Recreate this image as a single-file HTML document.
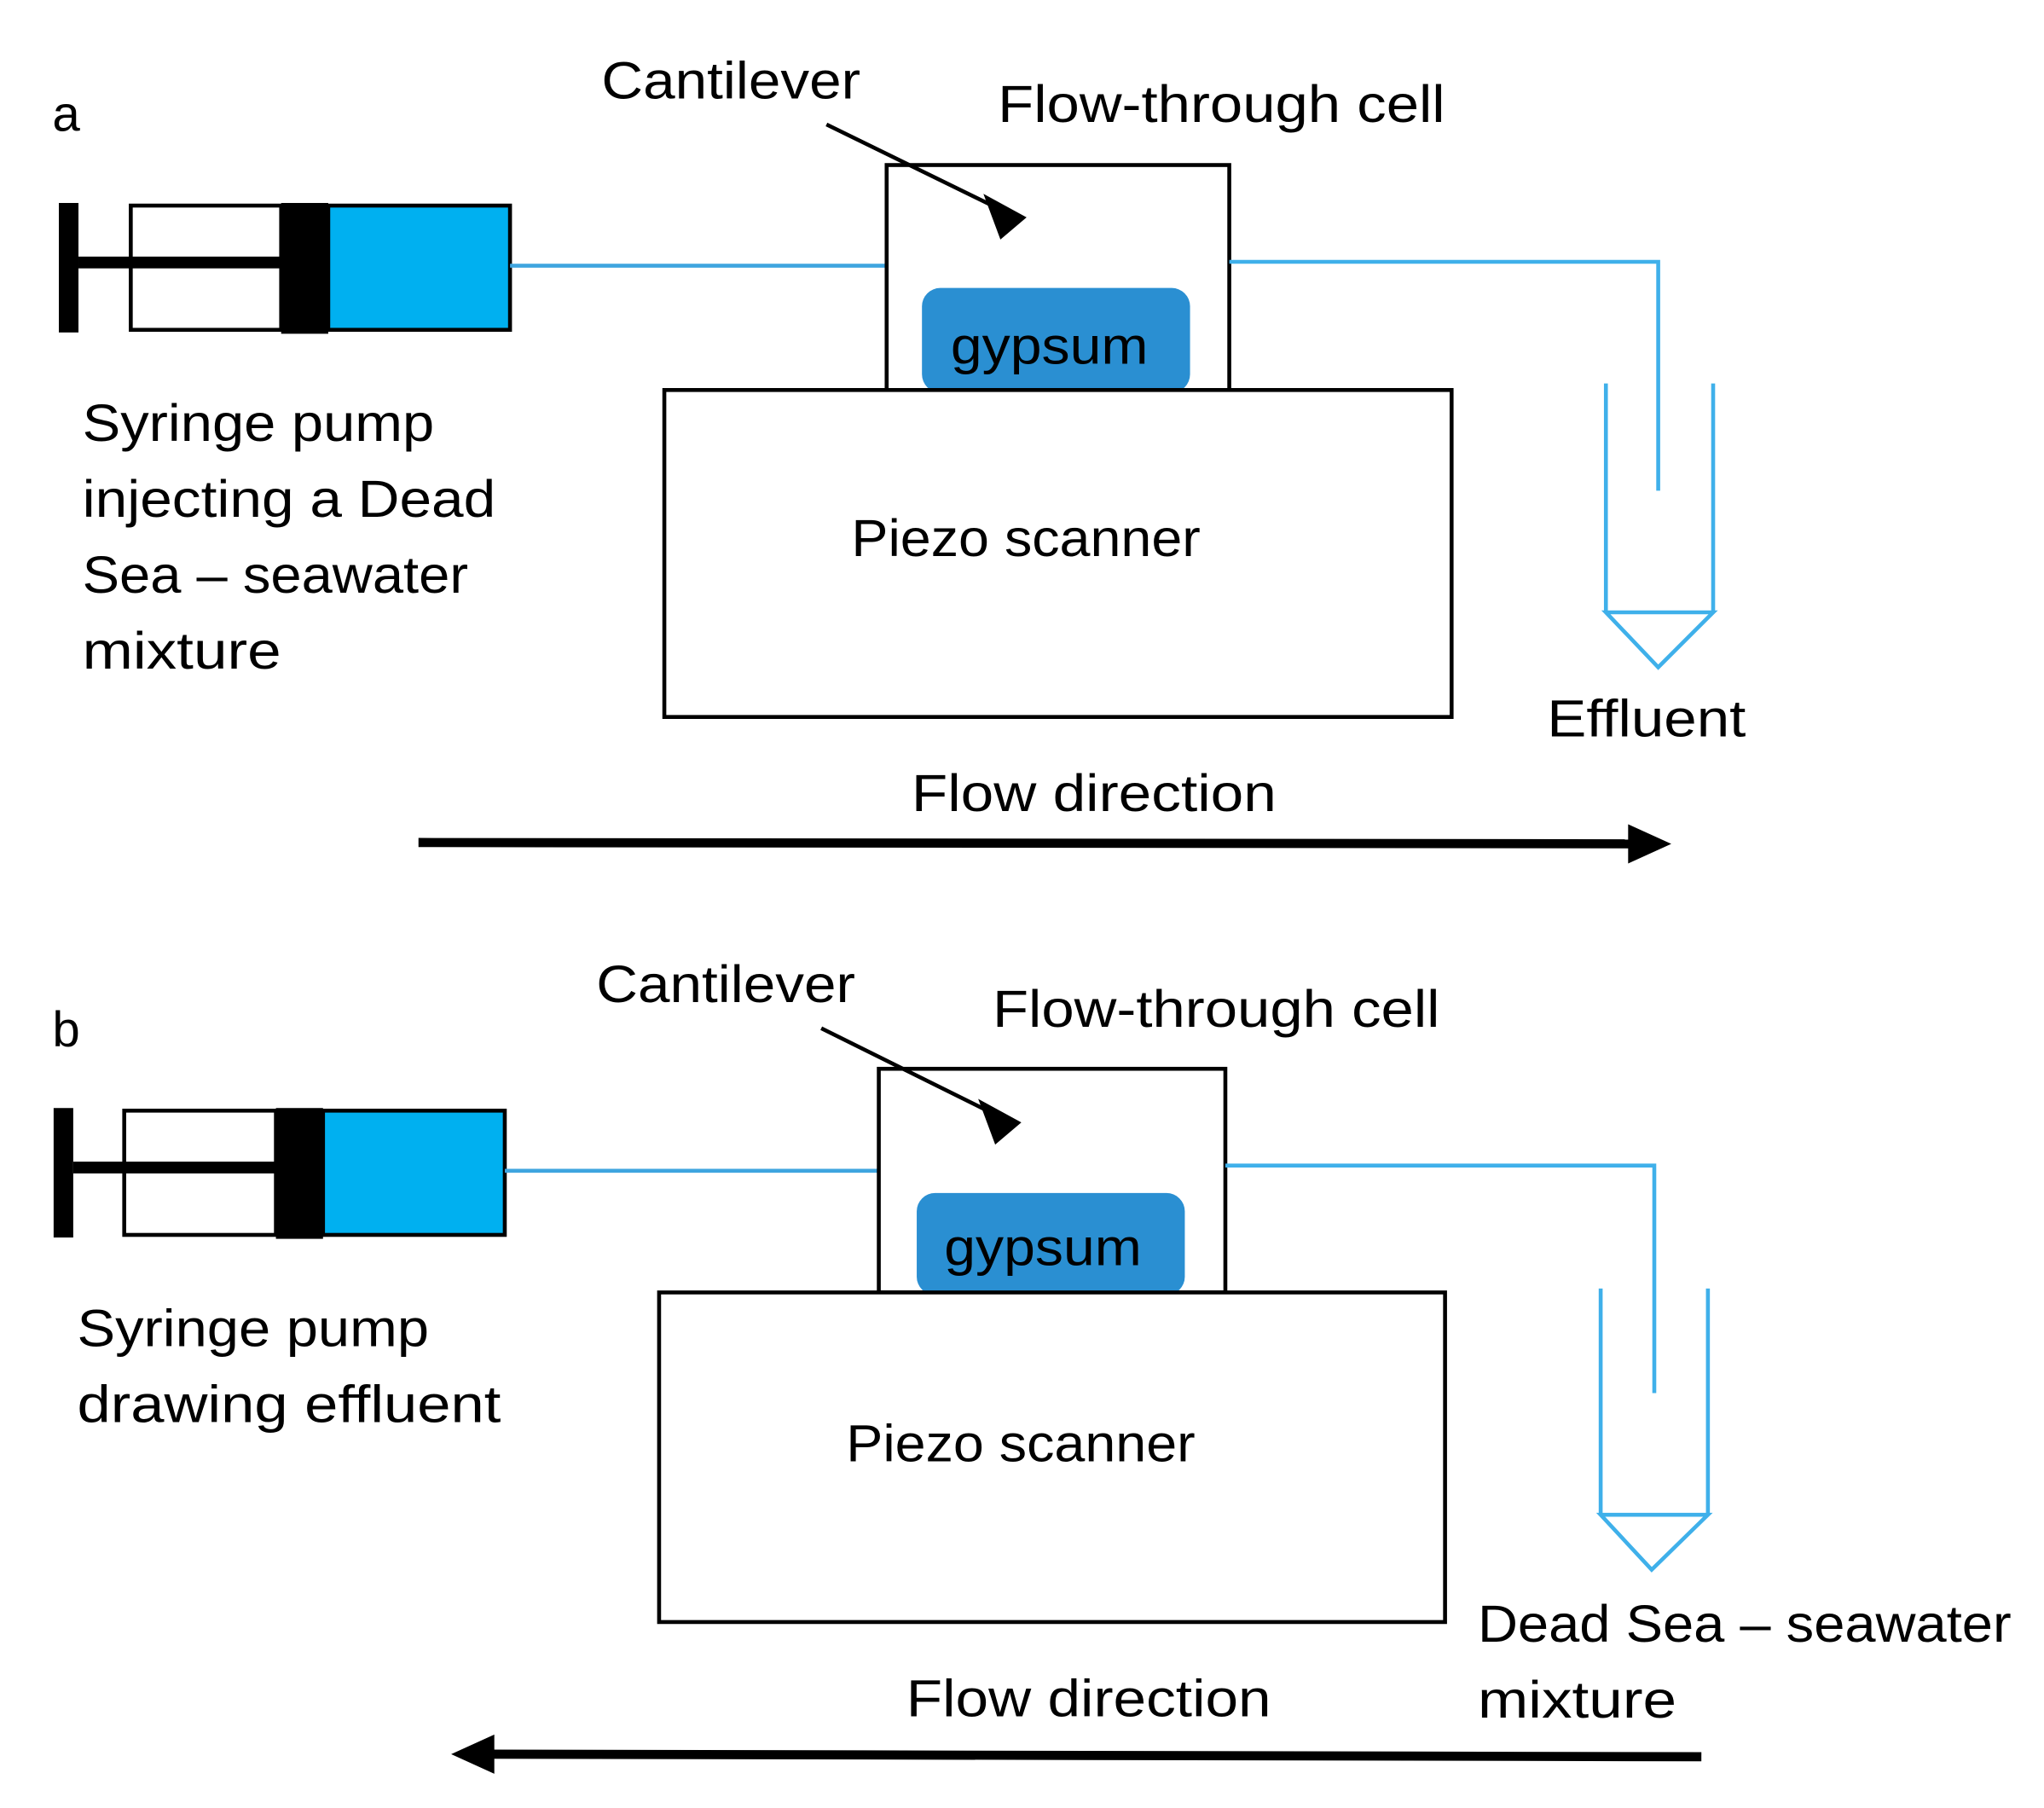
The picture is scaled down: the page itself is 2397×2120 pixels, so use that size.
<!DOCTYPE html>
<html><head><meta charset="utf-8"><style>html,body{margin:0;padding:0;background:#fff}svg{display:block}</style></head>
<body>
<svg xmlns="http://www.w3.org/2000/svg" width="2397" height="2120" viewBox="0 0 1563 1382" font-family="'Liberation Sans', 'DejaVu Sans', sans-serif" font-size="40" fill="#000">
<rect width="1563" height="1382" fill="#fff"/>
<!-- Panel a -->
<text x="40" y="100" font-size="38">a</text>
<text x="460" y="75" textLength="198" lengthAdjust="spacingAndGlyphs">Cantilever</text>
<text x="763" y="93" textLength="342" lengthAdjust="spacingAndGlyphs">Flow-through cell</text>
<rect x="45" y="155" width="15" height="99" fill="#000"/>
<rect x="100" y="157" width="115" height="95" fill="#fff" stroke="#000" stroke-width="3"/>
<rect x="60" y="196" width="156" height="9" fill="#000"/>
<rect x="215" y="155" width="36" height="100" fill="#000"/>
<rect x="251" y="157" width="139" height="95" fill="#00b0f0" stroke="#000" stroke-width="3"/>
<line x1="390" y1="203" x2="678" y2="203" stroke="#3fa5df" stroke-width="3"/>
<rect x="678" y="126" width="262" height="172" fill="#fff" stroke="#000" stroke-width="3"/>
<line x1="632" y1="95" x2="765" y2="160" stroke="#000" stroke-width="3"/>
<polygon points="752,148 785,166 765,183" fill="#000"/>
<rect x="705" y="220" width="205" height="80" rx="14" fill="#2a8fd2"/>
<text x="727" y="278" textLength="151" lengthAdjust="spacingAndGlyphs">gypsum</text>
<rect x="508" y="298" width="602" height="250" fill="#fff" stroke="#000" stroke-width="3"/>
<text x="651" y="425" textLength="267" lengthAdjust="spacingAndGlyphs">Piezo scanner</text>
<polyline points="940,200 1268,200 1268,375" fill="none" stroke="#3fb0ea" stroke-width="3"/>
<line x1="1228" y1="293" x2="1228" y2="468" stroke="#3fb0ea" stroke-width="3"/>
<line x1="1310" y1="293" x2="1310" y2="468" stroke="#3fb0ea" stroke-width="3"/>
<polygon points="1228,468 1310,468 1268,510" fill="none" stroke="#3fb0ea" stroke-width="3"/>
<text x="1183" y="563" textLength="152" lengthAdjust="spacingAndGlyphs">Effluent</text>
<text x="63" y="337" textLength="269" lengthAdjust="spacingAndGlyphs">Syringe pump</text>
<text x="63" y="395" textLength="316" lengthAdjust="spacingAndGlyphs">injecting a Dead</text>
<text x="63" y="453" textLength="295" lengthAdjust="spacingAndGlyphs">Sea – seawater</text>
<text x="63" y="511" textLength="152" lengthAdjust="spacingAndGlyphs">mixture</text>
<text x="697" y="620" textLength="279" lengthAdjust="spacingAndGlyphs">Flow direction</text>
<line x1="320" y1="644" x2="1252" y2="645" stroke="#000" stroke-width="7"/>
<polygon points="1245,630 1278,645 1245,660" fill="#000"/>
<!-- Panel b -->
<text x="40" y="800" font-size="38">b</text>
<text x="456" y="766" textLength="198" lengthAdjust="spacingAndGlyphs">Cantilever</text>
<text x="759" y="785" textLength="342" lengthAdjust="spacingAndGlyphs">Flow-through cell</text>
<rect x="41" y="847" width="15" height="99" fill="#000"/>
<rect x="95" y="849" width="116" height="95" fill="#fff" stroke="#000" stroke-width="3"/>
<rect x="56" y="888" width="156" height="9" fill="#000"/>
<rect x="211" y="847" width="36" height="100" fill="#000"/>
<rect x="247" y="849" width="139" height="95" fill="#00b0f0" stroke="#000" stroke-width="3"/>
<line x1="386" y1="895" x2="672" y2="895" stroke="#3fa5df" stroke-width="3"/>
<rect x="672" y="817" width="265" height="171" fill="#fff" stroke="#000" stroke-width="3"/>
<line x1="628" y1="786" x2="761" y2="852" stroke="#000" stroke-width="3"/>
<polygon points="748,840 781,858 761,875" fill="#000"/>
<rect x="701" y="912" width="205" height="78" rx="14" fill="#2a8fd2"/>
<text x="722" y="967" textLength="151" lengthAdjust="spacingAndGlyphs">gypsum</text>
<rect x="504" y="988" width="601" height="252" fill="#fff" stroke="#000" stroke-width="3"/>
<text x="647" y="1117" textLength="267" lengthAdjust="spacingAndGlyphs">Piezo scanner</text>
<polyline points="937,891 1265,891 1265,1065" fill="none" stroke="#3fb0ea" stroke-width="3"/>
<line x1="1224" y1="985" x2="1224" y2="1158" stroke="#3fb0ea" stroke-width="3"/>
<line x1="1306" y1="985" x2="1306" y2="1158" stroke="#3fb0ea" stroke-width="3"/>
<polygon points="1224,1158 1306,1158 1263,1200" fill="none" stroke="#3fb0ea" stroke-width="3"/>
<text x="1130" y="1255" textLength="408" lengthAdjust="spacingAndGlyphs">Dead Sea – seawater</text>
<text x="1130" y="1313" textLength="152" lengthAdjust="spacingAndGlyphs">mixture</text>
<text x="59" y="1029" textLength="269" lengthAdjust="spacingAndGlyphs">Syringe pump</text>
<text x="59" y="1087" textLength="324" lengthAdjust="spacingAndGlyphs">drawing effluent</text>
<text x="693" y="1312" textLength="279" lengthAdjust="spacingAndGlyphs">Flow direction</text>
<line x1="1301" y1="1343" x2="370" y2="1341" stroke="#000" stroke-width="7"/>
<polygon points="378,1326 345,1341 378,1356" fill="#000"/>
</svg>
</body></html>
